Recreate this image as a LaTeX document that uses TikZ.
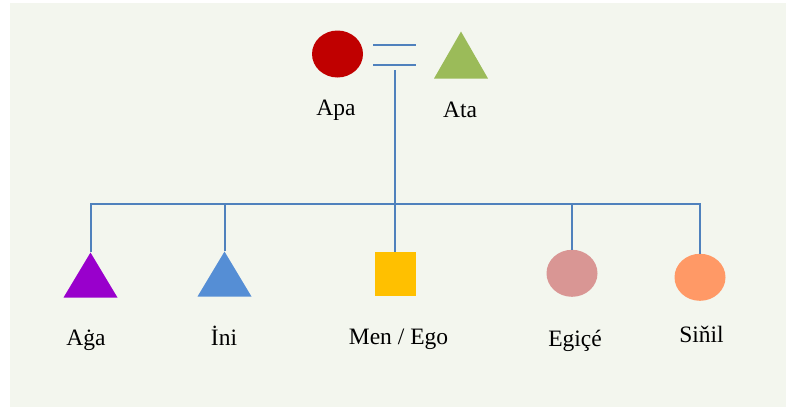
\documentclass[tikz,border=0pt]{standalone}
\usepackage{fontspec}
\setmainfont{Liberation Serif}
\usetikzlibrary{positioning,shapes.geometric}

\definecolor{kinline}{HTML}{4F81BD}
\definecolor{paper}{HTML}{F3F6EE}
\definecolor{mothercol}{HTML}{C00000}
\definecolor{fathercol}{HTML}{9BBB59}
\definecolor{elderbro}{HTML}{9900CC}
\definecolor{youngbro}{HTML}{558ED5}
\definecolor{egocol}{HTML}{FFC000}
\definecolor{eldersis}{HTML}{D99694}
\definecolor{youngsis}{HTML}{FF9966}

\begin{document}
\begin{tikzpicture}[
  x=1pt, y=-1pt,
  tie/.style={draw=kinline, line width=2pt},
  female/.style={ellipse, minimum width=51pt, minimum height=47pt, inner sep=0pt},
  male/.style={isosceles triangle, isosceles triangle stretches, shape border rotate=90,
    minimum width=54pt, minimum height=45pt, inner sep=0pt, anchor=apex},
  ego/.style={rectangle, minimum width=41pt, minimum height=44pt, inner sep=0pt},
  kinlabel/.style={anchor=base, inner sep=0pt, font=\fontsize{23.5}{26}\selectfont}
]
% page and panel
\fill[white] (0,0) rectangle (786,407);
\fill[paper] (10,3) rectangle (786,407);

% parents
\node[female, fill=mothercol] (apa) at (337.5,54) {};
\node[male, fill=fathercol, minimum height=47pt] (ata) at (461,31) {};
\node[kinlabel] (apalbl) at (336,115) {Apa};
\node[kinlabel] (atalbl) at (460,117) {Ata};

% marriage sign
\coordinate (wedtop) at (373,45);
\coordinate (wedbot) at (373,64.7);
\draw[tie] (wedtop) -- ++(43,0);
\draw[tie] (wedbot) -- ++(43,0);
\coordinate (wed) at (395,70);
\coordinate (bar) at (395,204);

% children
\node[male, fill=elderbro] (aga) at (90.5,252) {};
\node[male, fill=youngbro] (ini) at (224.5,251) {};
\node[ego, fill=egocol] (men) at (395,274) {};
\node[female, fill=eldersis] (egice) at (572,273.3) {};
\node[female, fill=youngsis] (sinil) at (700,277.3) {};

\node[kinlabel] (agalbl) at (86,345.7) {Aġa};
\node[kinlabel] (inilbl) at (224,345) {İni};
\node[kinlabel] (menlbl) at (398.5,344) {Men / Ego};
\node[kinlabel] (egicelbl) at (575,346) {Egiçé};
\node[kinlabel] (sinillbl) at (701.5,342.3) {Siňil};

% descent lines
\draw[tie] (wed) -- (men.north);
\draw[tie] (aga.apex) |- (bar) -| (sinil.north);
\draw[tie] (ini.apex) -- (ini.apex |- bar);
\draw[tie] (egice.north) -- (egice.north |- bar);
\end{tikzpicture}
\end{document}
